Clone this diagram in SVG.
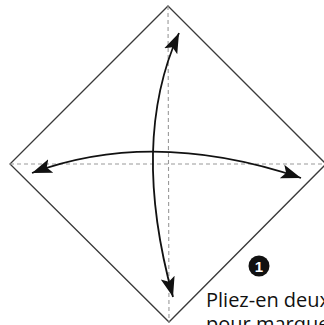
<svg xmlns="http://www.w3.org/2000/svg" width="324" height="325" viewBox="0 0 324 325">
<style>
.paper{fill:#fff;stroke:#3a3a3a;stroke-width:1.3}
.fold{fill:none;stroke:#9a9a9a;stroke-width:1.1;stroke-dasharray:4 3}
.arrow{fill:none;stroke:#111;stroke-width:1.8;marker-start:url(#ah);marker-end:url(#ah)}
.txt{font-family:"Open Sans","Liberation Sans",sans-serif;font-size:20px;fill:#111}
</style>
<defs>
<marker id="ah" markerUnits="userSpaceOnUse" markerWidth="20" markerHeight="20" refX="14" refY="5" orient="auto-start-reverse" viewBox="0 0 14 10">
<path d="M14,5 L0,0 L3,5 L0,10 Z" fill="#111"/>
</marker>
</defs>
<rect width="324" height="325" fill="#fff"/>
<g id="paper">
<path class="paper" d="M168,6 L326,164 L169,322 L10,164 Z"/>
</g>
<g id="folds">
<line class="fold" x1="168" y1="6" x2="169" y2="322"/>
<line class="fold" x1="10" y1="164" x2="324" y2="164"/>
</g>
<g id="connectors">
<path class="arrow" d="M179,33 Q130,141 173,297"/>
<path class="arrow" d="M32,173 Q153,128 301,178"/>
</g>
<g id="step">
<circle cx="259" cy="266" r="10.5" fill="#111"/>
<text x="259" y="271.5" text-anchor="middle" font-family="'Liberation Sans',sans-serif" font-weight="bold" font-size="15" fill="#fff">1</text>
</g>
<g id="caption">
<text class="txt" x="206" y="307">Pliez-en deux</text>
<text class="txt" x="206" y="331">pour marquer</text>
</g>
</svg>
